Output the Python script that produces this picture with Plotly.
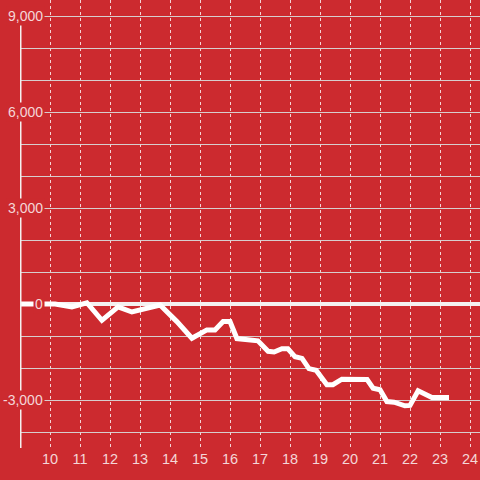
import plotly.graph_objects as go

# Data (hour of day vs. value)
hours = [9.0, 10.17, 10.73, 11.23, 11.73, 12.27, 12.73, 13.33, 13.67, 14.23, 14.73,
         15.23, 15.5, 15.77, 16.0, 16.23, 16.67, 16.93, 17.27, 17.47, 17.73, 17.93,
         18.17, 18.4, 18.63, 18.87, 19.23, 19.43, 19.73, 20.4, 20.57, 20.77, 21.0,
         21.23, 21.47, 21.83, 22.0, 22.27, 22.47, 22.73, 23.3]
values = [0, 0, -90, 40, -510, -90, -250, -110, -30, -550, -1070,
          -810, -810, -550, -550, -1080, -1100, -1150, -1480, -1500, -1400, -1400,
          -1650, -1700, -2020, -2070, -2520, -2520, -2350, -2340, -2360, -2630, -2680,
          -3050, -3070, -3180, -3170, -2710, -2810, -2920, -2920]

x_ticks = list(range(10, 25))
y_label_vals = [9000, 6000, 3000, 0, -3000]
y_label_text = ["9,000", "6,000", "3,000", "0", "-3,000"]

BG = "#cc2a2f"
TXT = "rgba(255,255,255,0.82)"
FONT = "Liberation Sans, Arial, sans-serif"

fig = go.Figure()
fig.add_trace(go.Scatter(x=hours, y=values, mode="lines",
                         line=dict(color="white", width=5), hoverinfo="skip"))

# y axis line
fig.add_shape(type="line", xref="x", yref="y", x0=9, x1=9, y0=-4500, y1=9000,
              line=dict(color="#f4f0f0", width=3), layer="above")

for v, t in zip(y_label_vals, y_label_text):
    fig.add_annotation(xref="paper", yref="y", x=25/460, y=v, text=t,
                       showarrow=False, xanchor="right", yanchor="middle",
                       bgcolor=BG, borderpad=1,
                       font=dict(family=FONT, size=14, color=TXT))

fig.update_layout(
    width=480, height=480,
    margin=dict(l=20, r=0, t=0, b=32),
    paper_bgcolor=BG, plot_bgcolor=BG,
    showlegend=False,
    xaxis=dict(range=[9, 24.3333], tickvals=x_ticks, ticktext=[str(t) for t in x_ticks],
               showgrid=True, gridcolor="rgba(255,255,255,0.8)", griddash="dot", gridwidth=1,
               zeroline=False, showline=False, ticks="",
               tickfont=dict(family=FONT, size=14.5, color=TXT)),
    yaxis=dict(range=[-4500, 9500], dtick=1000, showticklabels=False,
               showgrid=True, gridcolor="rgba(215,215,215,0.95)", gridwidth=1,
               zeroline=True, zerolinecolor="#f4f0f0", zerolinewidth=4,
               showline=False, ticks=""),
)

fig.write_html("out.html", config={"displayModeBar": False},
               post_script="document.body.style.margin='0';document.body.style.overflow='hidden';")
